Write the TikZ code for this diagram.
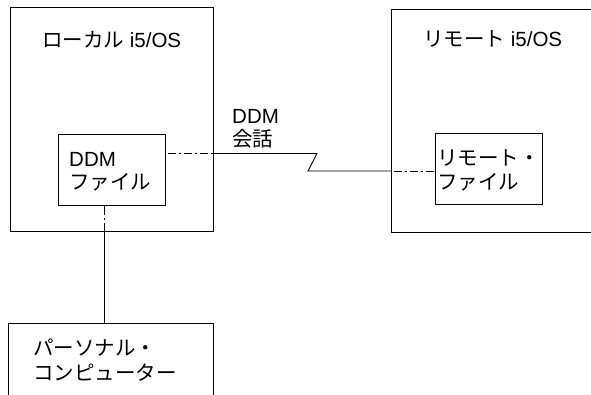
\documentclass[tikz,border=0pt]{standalone}
\usepackage{fontspec}
\setmainfont{Liberation Sans}
\newfontfamily\jp{Noto Sans CJK JP}
\begin{document}
\begin{tikzpicture}[x=1pt,y=-1pt,
  box/.style={draw,line width=0.9pt,inner sep=0pt},
  txt/.style={anchor=base west,inner sep=0pt,font=\fontsize{20.5}{24}\selectfont},
  ln/.style={line width=0.9pt},
  dashdot/.style={line width=0.9pt,dash pattern=on 8pt off 3pt on 2pt off 3pt,dash phase=-3pt},
  vdashdot/.style={line width=0.9pt,dash pattern=on 10pt off 3pt on 2pt off 3pt}]
\useasboundingbox (0,0) rectangle (591,395);
\fill[white] (0,0) rectangle (591,395);
% containers
\node[box,minimum width=203.5pt,minimum height=223.5pt,anchor=north west] (local) at (9.5,7.5) {};
\node[box,minimum width=106.5pt,minimum height=71pt,anchor=north west] (ddm) at (58,134) {};
\node[box,minimum width=215pt,minimum height=223pt,anchor=north west] (remote) at (391,9) {};
\node[box,minimum width=107.5pt,minimum height=70.5pt,anchor=north west] (rfile) at (434.5,133.5) {};
\node[box,minimum width=205pt,minimum height=90pt,anchor=north west] (pc) at (8,323) {};
% texts
\node[txt] (tlocal) at (42,48) {{\jp ローカル} i5/OS};
\node[txt] (tremote) at (423,47) {{\jp リモート} i5/OS};
\node[txt] (tddm1) at (69,167) {DDM};
\node[txt] (tddm2) at (69,190) {\jp ファイル};
\node[txt] (trf1) at (437,166) {\jp リモート・};
\node[txt] (trf2) at (437,190) {\jp ファイル};
\node[txt] (tconv1) at (232,124) {DDM};
\node[txt] (tconv2) at (232,147) {\jp 会話};
\node[txt] (tpc1) at (33,355) {\jp パーソナル・};
\node[txt] (tpc2) at (33,380) {\jp コンピューター};
% connectors
\coordinate (a) at (ddm.east |- 0,153.5);
\coordinate (b) at (local.east |- 0,153.5);
\coordinate (z1) at (317,153.5);
\coordinate (z2) at (308,171);
\coordinate (c) at (remote.west |- 0,171);
\coordinate (d) at (rfile.west |- 0,171);
\draw[dashdot] (a) -- (b);
\draw[ln] (b) -- (z1) -- (z2) -- (c);
\draw[dashdot] (c) -- (d);
\coordinate (v1) at (104.5,205);
\coordinate (v2) at (104.5,223);
\coordinate (v3) at (pc.north -| 104.5,0);
\draw[vdashdot] (v1) -- (v2);
\draw[ln] (v2) -- (v3);
\end{tikzpicture}
\end{document}
